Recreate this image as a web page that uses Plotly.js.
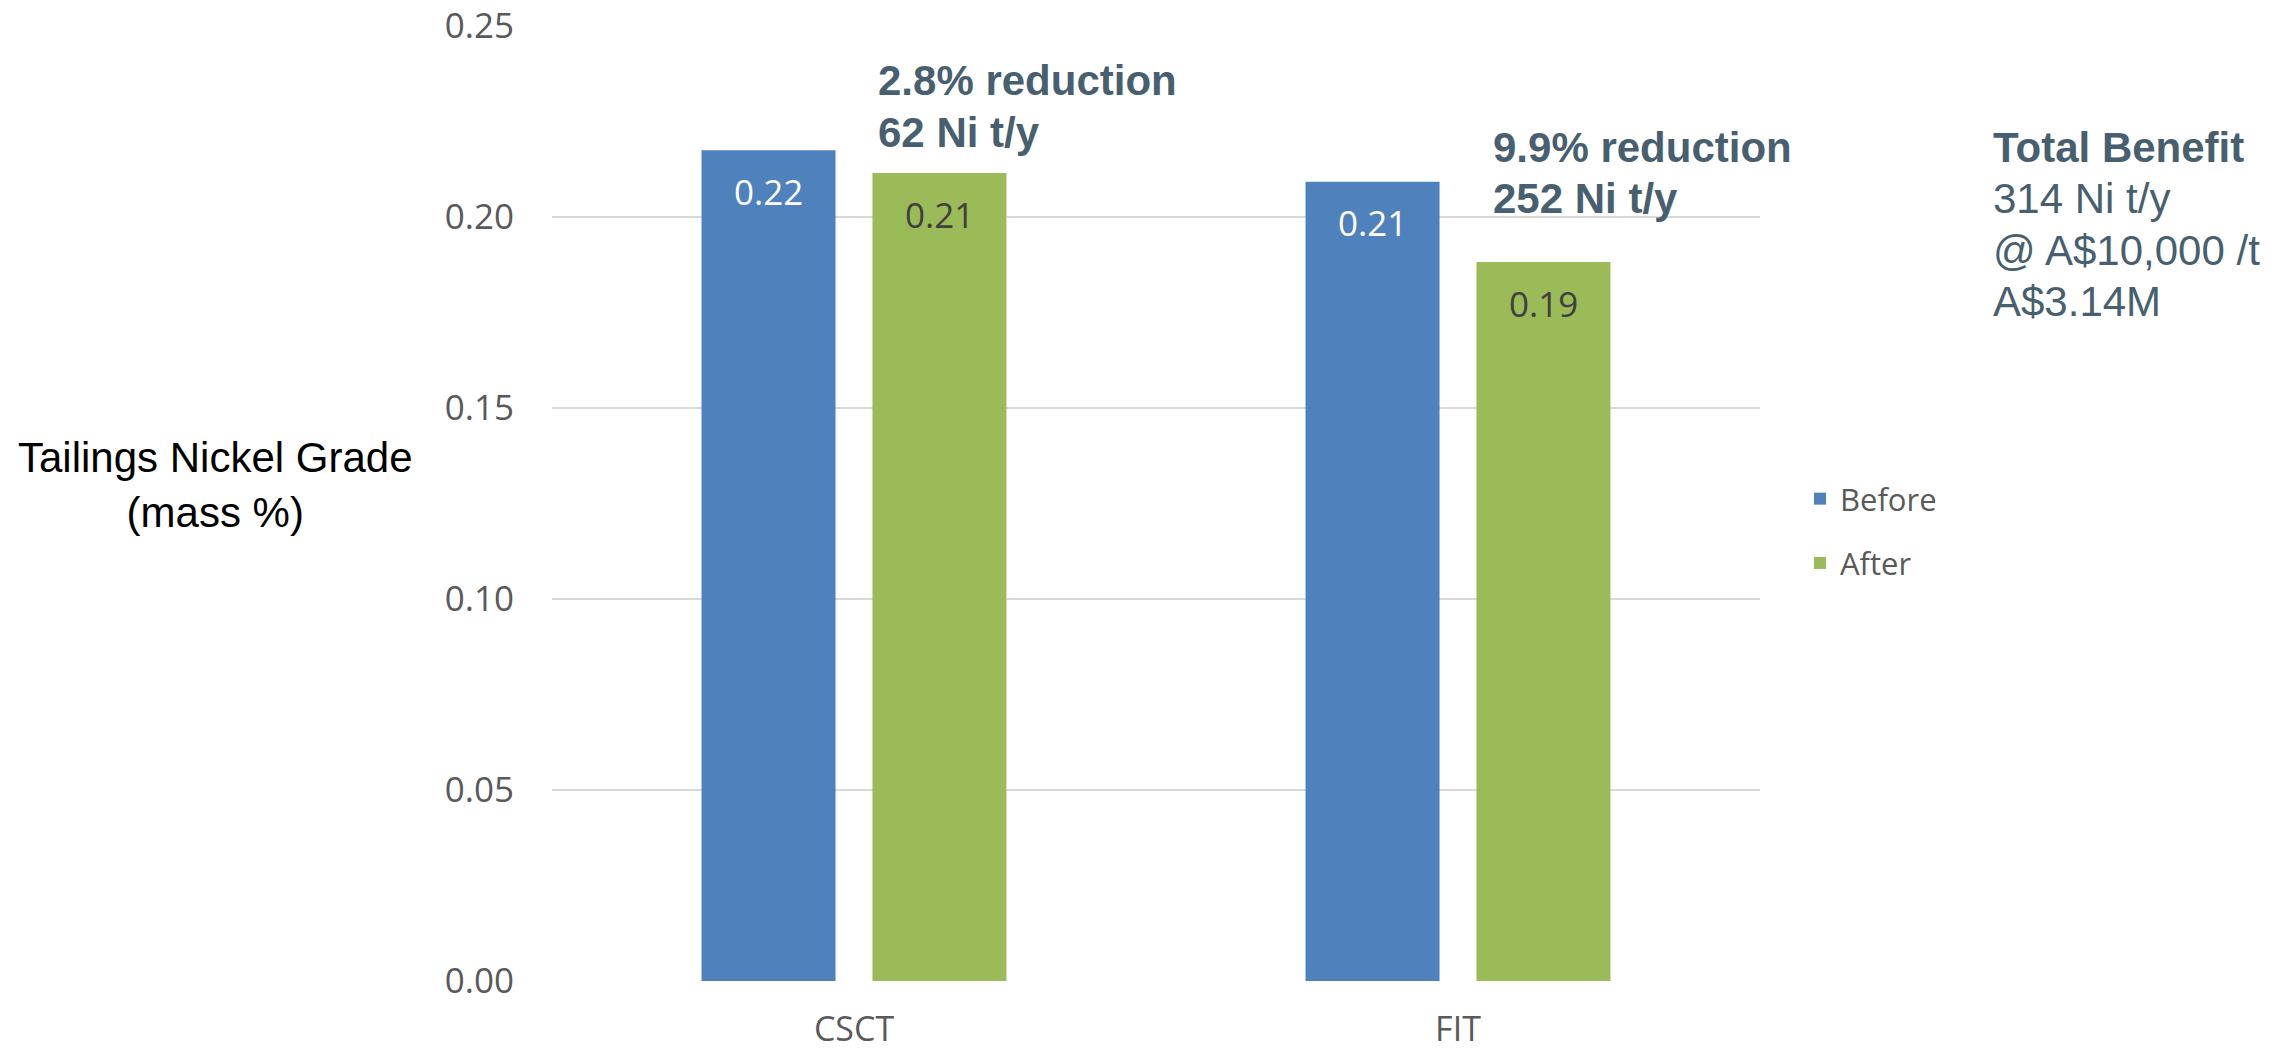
<!DOCTYPE html>
<html>
<head>
<meta charset="utf-8">
<script src="https://cdn.plot.ly/plotly-3.0.1.min.js"></script>
<style>html,body{margin:0;padding:0;background:#fff;}#chart{width:2292px;height:1051px;}</style>
</head>
<body>
<div id="chart"></div>
<script>
// ---- data ----
const categories = ["CSCT", "FIT"];
const seriesNames = ["Before", "After"];
const beforeValues = [0.2175, 0.2092];
const afterValues = [0.2115, 0.1882];
const yTickValues = [0, 0.05, 0.10, 0.15, 0.20, 0.25];
const yTickLabels = ["0.00", "0.05", "0.10", "0.15", "0.20", "0.25"];
const yTitleLines = ["Tailings Nickel Grade", "(mass %)"];
const csctNoteLines = ["2.8% reduction", "62 Ni t/y"];
const fitNoteLines = ["9.9% reduction", "252 Ni t/y"];
const benefitTitle = "Total Benefit";
const benefitLines = ["314 Ni t/y", "@ A$10,000 /t", "A$3.14M"];

// ---- style ----
const blue = "#4F81BD";
const green = "#9BBB59";
const noteColor = "#475F6F";
const tickGray = "#595959";

const W = 2292, H = 1051;
const margin = {l: 552, r: 532, t: 26, b: 70, pad: 0};
const plotW = W - margin.l - margin.r;
const plotH = H - margin.t - margin.b;
const bargap = 0.434;
const bargroupgap = 0.216;
const slotPx = (plotW / categories.length) * (1 - bargap) / 2;

const traces = [
  {type: "bar", name: seriesNames[0], x: categories, y: beforeValues,
   marker: {color: blue, line: {width: 0}}, legendgroup: "a", hoverinfo: "x+y"},
  {type: "bar", name: seriesNames[1], x: categories, y: afterValues,
   marker: {color: green, line: {width: 0}}, legendgroup: "b", hoverinfo: "x+y"}
];

const annotations = [];
// value labels inside bars near the top
[beforeValues, afterValues].forEach((vals, i) => {
  vals.forEach((v, j) => {
    annotations.push({
      xref: "x", yref: "y", x: categories[j], y: v,
      xshift: (i === 0 ? -1 : 1) * slotPx / 2, yshift: -41,
      xanchor: "center", yanchor: "middle", showarrow: false,
      text: v.toFixed(2),
      font: {family: "Open Sans, Noto Sans, sans-serif", size: 35, color: i === 0 ? "#FFFFFF" : "#404040"}
    });
  });
});

function px2x(px) { return (px - margin.l) / plotW; }
function px2y(py) { return (H - margin.b - py) / plotH; }

// y-axis title (horizontal)
annotations.push({
  xref: "paper", yref: "paper", x: px2x(215), y: px2y(485),
  xanchor: "center", yanchor: "middle", showarrow: false, align: "center",
  text: yTitleLines.join("<br>"),
  font: {family: "Liberation Sans, Arial, sans-serif", size: 42, color: "#000000"}
});

function addLines(lines, xpx, firstCenter, spacing, boldCount) {
  lines.forEach((t, k) => {
    annotations.push({
      xref: "paper", yref: "paper", x: px2x(xpx), y: px2y(firstCenter + k * spacing),
      xanchor: "left", yanchor: "middle", showarrow: false, align: "left",
      text: k < boldCount ? "<b>" + t + "</b>" : t,
      font: {family: "Liberation Sans, Arial, sans-serif", size: 42, color: noteColor}
    });
  });
}
addLines(csctNoteLines, 876, 80, 52, 2);
addLines(fitNoteLines, 1491, 147, 51, 2);
addLines([benefitTitle].concat(benefitLines), 1991, 147, 51.5, 1);

const layout = {
  width: W, height: H,
  margin: margin,
  paper_bgcolor: "#FFFFFF", plot_bgcolor: "#FFFFFF",
  barmode: "group", bargap: bargap, bargroupgap: bargroupgap,
  showlegend: true,
  legend: {
    x: px2x(1800), y: px2y(531), xanchor: "left", yanchor: "middle",
    font: {family: "Open Sans, Noto Sans, sans-serif", size: 31, color: tickGray},
    bgcolor: "rgba(0,0,0,0)", traceorder: "grouped", tracegroupgap: 21
  },
  xaxis: {
    type: "category", range: [-0.5, 1.5],
    showgrid: false, zeroline: false, showline: false,
    ticks: "outside", ticklen: 18, tickcolor: "rgba(0,0,0,0)",
    tickfont: {family: "Open Sans, Noto Sans, sans-serif", size: 34, color: tickGray}
  },
  yaxis: {
    range: [0, 0.25], tickvals: yTickValues, ticktext: yTickLabels,
    showgrid: true, gridcolor: "#D9D9D9", gridwidth: 2,
    zeroline: false, showline: false,
    ticks: "outside", ticklen: 30, tickcolor: "rgba(0,0,0,0)",
    tickfont: {family: "Open Sans, Noto Sans, sans-serif", size: 35, color: tickGray}
  },
  annotations: annotations
};

Plotly.newPlot("chart", traces, layout, {displayModeBar: false, staticPlot: true});
</script>
</body>
</html>
